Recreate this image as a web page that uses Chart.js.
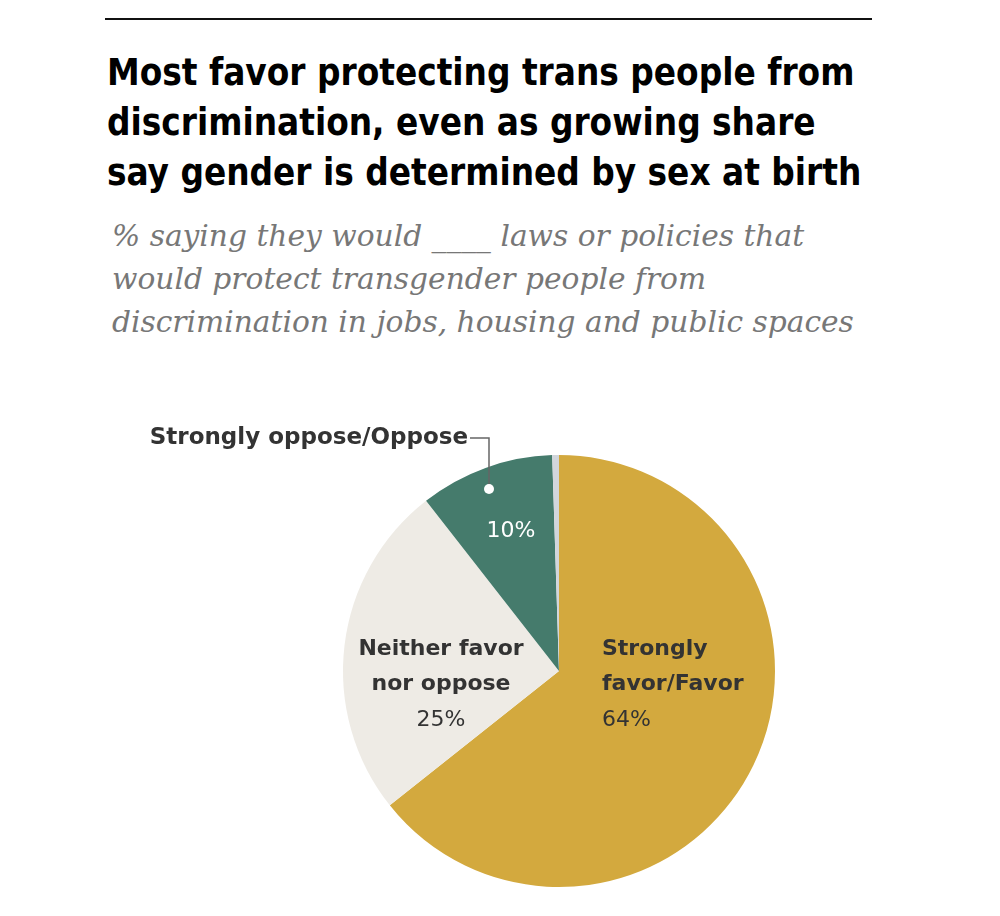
<!DOCTYPE html>
<html>
<head>
<meta charset="utf-8">
<script src="https://cdn.jsdelivr.net/npm/chart.js@4.4.0/dist/chart.umd.min.js"></script>
<style>
  body { margin: 0; background: #fff; width: 1000px; height: 916px; position: relative; overflow: hidden; }
  #rule { position: absolute; left: 105px; top: 18px; width: 767px; height: 2px; background: #111; }
  #title { position: absolute; left: 107px; top: 48px; margin: 0; font-family: 'DejaVu Sans Condensed', 'Liberation Sans', sans-serif; font-weight: bold; font-size: 36.5px; line-height: 50px; color: #000; white-space: nowrap; }
  #subtitle { position: absolute; left: 112px; top: 214px; margin: 0; font-family: 'DejaVu Serif', 'Liberation Serif', serif; font-style: italic; font-size: 29.7px; line-height: 43px; color: #777; white-space: nowrap; }
  #wrap { position: absolute; left: 0; top: 400px; width: 1000px; height: 516px; }
</style>
</head>
<body>
<div id="rule"></div>
<h1 id="title">Most favor protecting trans people from<br>discrimination, even as growing share<br>say gender is determined by sex at birth</h1>
<p id="subtitle">% saying they would ____ laws or policies that<br>would protect transgender people from<br>discrimination in jobs, housing and public spaces</p>
<div id="wrap"><canvas id="pieChart" width="1000" height="516"></canvas></div>
<script>
var categories = ['Strongly favor/Favor', 'Neither favor nor oppose', 'Strongly oppose/Oppose', 'No answer'];
var values = [64, 25, 10, 0.5];
var colors = ['#d3a93e', '#eeebe5', '#457b6c', '#d2d6dc'];

// label text per slice, offsets from the pie centre
var labelLines = [
    [{t: 'Strongly', b: true}, {t: 'favor/Favor', b: true}, {t: '64%', b: false}],
    [{t: 'Neither favor', b: true}, {t: 'nor oppose', b: true}, {t: '25%', b: false}],
    [{t: '10%', b: false}],
    []
];
var labelPos = [
    {dx: 43, dy: -22, align: 'left', color: '#333'},
    {dx: -118, dy: -22, align: 'center', color: '#333'},
    {dx: -48, dy: -140, align: 'center', color: '#fff'},
    null
];
var labelFont = '"DejaVu Sans", "Liberation Sans", sans-serif';

var pieLabels = {
    id: 'pieLabels',
    afterDatasetsDraw: function(chart) {
        var ctx = chart.ctx;
        var arc = chart.getDatasetMeta(0).data[0];
        var cx = arc.x, cy = arc.y, r = arc.outerRadius;
        ctx.save();
        ctx.textBaseline = 'middle';
        labelLines.forEach(function(lines, i) {
            var p = labelPos[i];
            if (!p) return;
            ctx.textAlign = p.align;
            ctx.fillStyle = p.color;
            lines.forEach(function(l, k) {
                ctx.font = (l.b ? 'bold ' : '') + '22px ' + labelFont;
                ctx.fillText(l.t, cx + p.dx, cy + p.dy + k * 35.5);
            });
        });
        // callout for the teal slice
        var lx = cx - 70, ly = cy - 182;
        ctx.strokeStyle = '#666';
        ctx.lineWidth = 1.5;
        ctx.beginPath();
        ctx.moveTo(cx - 89, cy - r - 17);
        ctx.lineTo(lx, cy - r - 17);
        ctx.lineTo(lx, ly);
        ctx.stroke();
        ctx.fillStyle = '#fff';
        ctx.beginPath();
        ctx.arc(lx, ly, 5, 0, Math.PI * 2);
        ctx.fill();
        ctx.font = 'bold 23px ' + labelFont;
        ctx.fillStyle = '#333';
        ctx.textAlign = 'right';
        ctx.fillText(categories[2], cx - 91, cy - r - 17);
        ctx.restore();
    }
};

new Chart(document.getElementById('pieChart').getContext('2d'), {
    type: 'pie',
    data: {
        labels: categories,
        datasets: [{
            data: values,
            backgroundColor: colors,
            borderWidth: 0
        }]
    },
    options: {
        responsive: false,
        animation: false,
        layout: { padding: { left: 343, right: 225, top: 55, bottom: 29 } },
        plugins: {
            legend: { display: false },
            tooltip: { enabled: false }
        }
    },
    plugins: [pieLabels]
});
</script>
</body>
</html>
